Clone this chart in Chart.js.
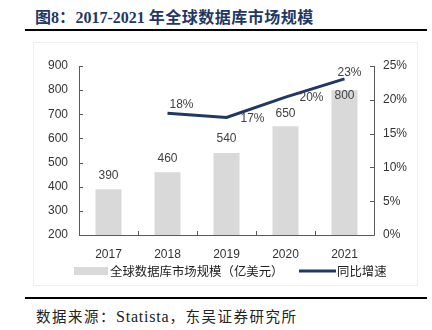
<!DOCTYPE html>
<html><head><meta charset="utf-8">
<script src="https://cdn.jsdelivr.net/npm/chart.js@4/dist/chart.umd.min.js"></script>
<style>
body{margin:0;width:432px;height:330px;background:#fff;position:relative;overflow:hidden;font-family:"Liberation Serif","Noto Sans CJK SC",serif;}
#title{position:absolute;left:35px;top:4px;font-size:16px;font-weight:bold;color:#1f3864;white-space:nowrap}
#title .cn{font-family:"Noto Sans CJK SC",sans-serif;letter-spacing:0.5px}
.rule{position:absolute;left:25px;width:402px;height:2px;background:#000}
#panel{position:absolute;left:33px;top:42px;width:385px;height:244px;border:1px solid #eeeeee;box-sizing:border-box}
#src{position:absolute;left:36px;top:305px;font-size:16px;color:#222;white-space:nowrap}
#src .cn{font-family:"Noto Sans CJK SC",sans-serif;font-size:14.5px;letter-spacing:1.5px}
#src .en{letter-spacing:0.8px}
</style></head>
<body>
<div id="title">图8<span class="cn">：</span>2017-2021 <span class="cn">年全球数据库市场规模</span></div>
<div class="rule" style="top:29px"></div>
<div id="panel"><canvas id="c" width="383" height="242"></canvas></div>
<div class="rule" style="top:297px"></div>
<div id="src"><span class="cn">数据来源：</span><span class="en">Statista</span><span class="cn">，东吴证券研究所</span></div>
<script>
const categories = ["2017","2018","2019","2020","2021"];
const marketSize = [390, 460, 540, 650, 800];
const growthRate = [null, 18.0, 17.4, 20.4, 23.1];
const growthLabels = ["", "18%", "17%", "20%", "23%"];
const barLabelOffsets = [-13, -14, -14, -13, 6];
const lineLabelOffsets = [[0,0],[14,-9],[26,1],[26,1],[5,-6]];
const seriesNames = ["全球数据库市场规模（亿美元）", "同比增速"];

const axisColor = "#595959";
const tickFont = {family:"Liberation Sans, Arial, sans-serif", size:12};

const overlay = {
  id:"overlay",
  afterDatasetsDraw(chart){
    const ctx = chart.ctx, ca = chart.chartArea;
    const x = chart.scales.x, yL = chart.scales.y, yR = chart.scales.y1;
    ctx.save();
    ctx.strokeStyle = axisColor; ctx.lineWidth = 1;
    ctx.beginPath();
    ctx.moveTo(Math.round(ca.left)+0.5, ca.top); ctx.lineTo(Math.round(ca.left)+0.5, Math.round(ca.bottom)+0.5);
    ctx.lineTo(Math.round(ca.right)+0.5, Math.round(ca.bottom)+0.5); ctx.lineTo(Math.round(ca.right)+0.5, ca.top);
    ctx.stroke();
    ctx.beginPath();
    yL.ticks.forEach(t=>{const py=Math.round(yL.getPixelForValue(t.value))+0.5; ctx.moveTo(ca.left,py); ctx.lineTo(ca.left+4,py);});
    yR.ticks.forEach(t=>{const py=Math.round(yR.getPixelForValue(t.value))+0.5; ctx.moveTo(ca.right,py); ctx.lineTo(ca.right-4,py);});
    const step = (ca.right-ca.left)/categories.length;
    for(let i=1;i<categories.length;i++){const px=Math.round(ca.left+step*i)+0.5; ctx.moveTo(px,ca.bottom); ctx.lineTo(px,ca.bottom-4);}
    ctx.stroke();
    ctx.font = "12px Liberation Sans, Arial, sans-serif";
    ctx.fillStyle = "#404040"; ctx.textAlign="center"; ctx.textBaseline="middle";
    chart.getDatasetMeta(0).data.forEach((b,i)=>{ ctx.fillText(String(marketSize[i]), b.x, b.y+barLabelOffsets[i]); });
    chart.getDatasetMeta(1).data.forEach((p,i)=>{ if(growthRate[i]==null) return; ctx.fillText(growthLabels[i], p.x+lineLabelOffsets[i][0], p.y+lineLabelOffsets[i][1]); });
    const ly = 228;
    ctx.fillStyle = "#d9d9d9"; ctx.fillRect(40, ly-4, 34, 8);
    ctx.font = "12.4px Noto Sans CJK SC, sans-serif"; ctx.fillStyle="#222"; ctx.textAlign="left";
    ctx.fillText(seriesNames[0], 76, ly);
    ctx.strokeStyle = "#1f3864"; ctx.lineWidth = 3;
    ctx.beginPath(); ctx.moveTo(265, ly); ctx.lineTo(302, ly); ctx.stroke();
    ctx.fillText(seriesNames[1], 303, ly);
    ctx.restore();
  }
};

new Chart(document.getElementById("c"), {
  data:{
    labels: categories,
    datasets:[
      {type:"bar", label:seriesNames[0], data:marketSize, backgroundColor:"#d9d9d9", yAxisID:"y", barPercentage:0.9, categoryPercentage:0.49, order:2},
      {type:"line", label:seriesNames[1], data:growthRate, borderColor:"#1f3864", borderWidth:3, pointRadius:0, tension:0, yAxisID:"y1", spanGaps:false, order:1}
    ]
  },
  options:{
    responsive:false, animation:false,
    layout:{padding:{top:23,left:0,right:0,bottom:0}},
    plugins:{legend:{display:false}, tooltip:{enabled:false}},
    scales:{
      x:{offset:true, grid:{display:false, drawTicks:false}, border:{display:false},
         ticks:{color:"#333", font:tickFont, padding:12},
         afterFit(s){s.height=50;}},
      y:{position:"left", min:200, max:900, grid:{display:false, drawTicks:false}, border:{display:false},
         ticks:{stepSize:100, color:"#333", font:tickFont, padding:11},
         afterFit(s){s.width=45;}},
      y1:{position:"right", min:0, max:25, grid:{display:false, drawTicks:false}, border:{display:false},
         ticks:{stepSize:5, color:"#333", font:tickFont, padding:9, callback:v=>v+"%"},
         afterFit(s){s.width=43;}}
    }
  },
  plugins:[overlay]
});
</script>
</body></html>
